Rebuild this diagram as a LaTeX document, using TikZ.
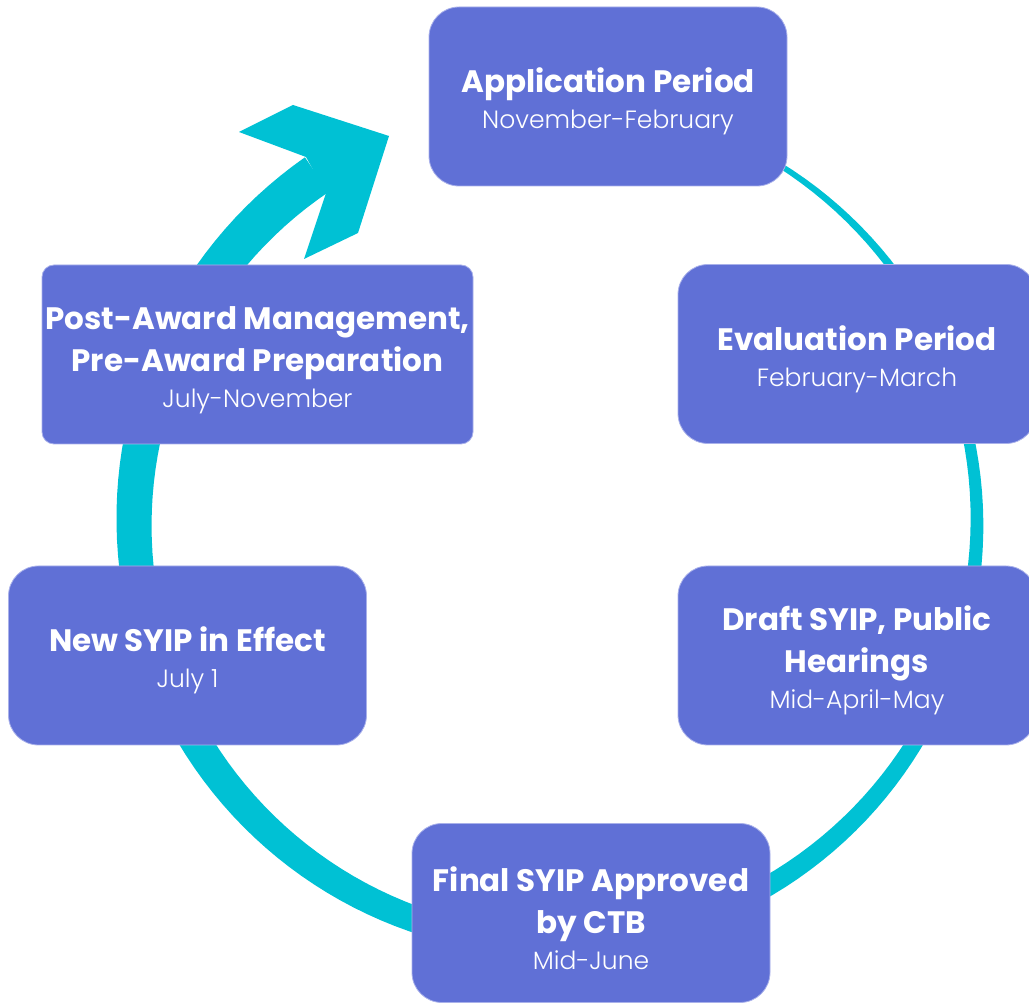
\documentclass[tikz,border=0pt]{standalone}
\usepackage{fontspec}
\setmainfont{Poppins}
\newfontfamily\lightfont{Poppins Light}
\definecolor{stagefill}{HTML}{6070D6}
\definecolor{stageline}{HTML}{A9B1EA}
\definecolor{ringcyan}{HTML}{00C1D4}
\newcommand{\when}[1]{{\lightfont\mdseries\fontsize{12.5}{18}\selectfont #1}}
\newcommand{\lift}{\rule{0pt}{17.5pt}}
\tikzset{
	stage/.style={fill=stagefill,draw=stageline,line width=0.4pt,rounded corners=15pt,
		minimum width=179pt,minimum height=89.5pt,inner sep=0pt,text=white,align=center,
		font=\fontsize{15.5}{21}\selectfont\bfseries},
	declare function={ringw(\t)=2.5+18.5*(62-\t)/297.5;}
}
\begin{document}
\begin{tikzpicture}[x=0.5pt,y=-0.5pt]
	\useasboundingbox (0,0) rectangle (1029,1004);
	% ring with growing width, clockwise
	\fill[ringcyan] plot[domain=62:-235.5,samples=150]
		({555.5+(421.5+ringw(\x))*cos(\x)},{522-(421.5+ringw(\x))*sin(\x)})
		-- plot[domain=-235.5:62,samples=150]
		({555.5+(421.5-ringw(\x))*cos(\x)},{522-(421.5-ringw(\x))*sin(\x)}) -- cycle;
	% arrow head
	\fill[ringcyan] (306,157) -- (239,132) -- (293,105) -- (389,136) -- (358,233)
		-- (304,259) -- (326,193) -- cycle;
	
	\node[stage] (app) at (608,96.5) {\lift Application Period\\[-3pt]\when{November-February}};
	\node[stage] (eval) at (857,354) {\lift Evaluation Period\\[-3pt]\when{February-March}};
	\node[stage] (draft) at (857,655.5) {\lift Draft SYIP, Public\\Hearings\\[-3pt]\when{Mid-April-May}};
	\node[stage] (final) at (591,913) {\lift Final SYIP Approved\\by CTB\\[-3pt]\when{Mid-June}};
	\node[stage] (newsyip) at (187.5,655.5) {\lift New SYIP in Effect\\[-3pt]\when{July 1}};
	\node[stage,minimum width=215.5pt,rounded corners=6pt] (post) at (257.5,354.5)
		{\lift Post-Award Management,\\Pre-Award Preparation\\[-3pt]\when{July-November}};
\end{tikzpicture}
\end{document}
